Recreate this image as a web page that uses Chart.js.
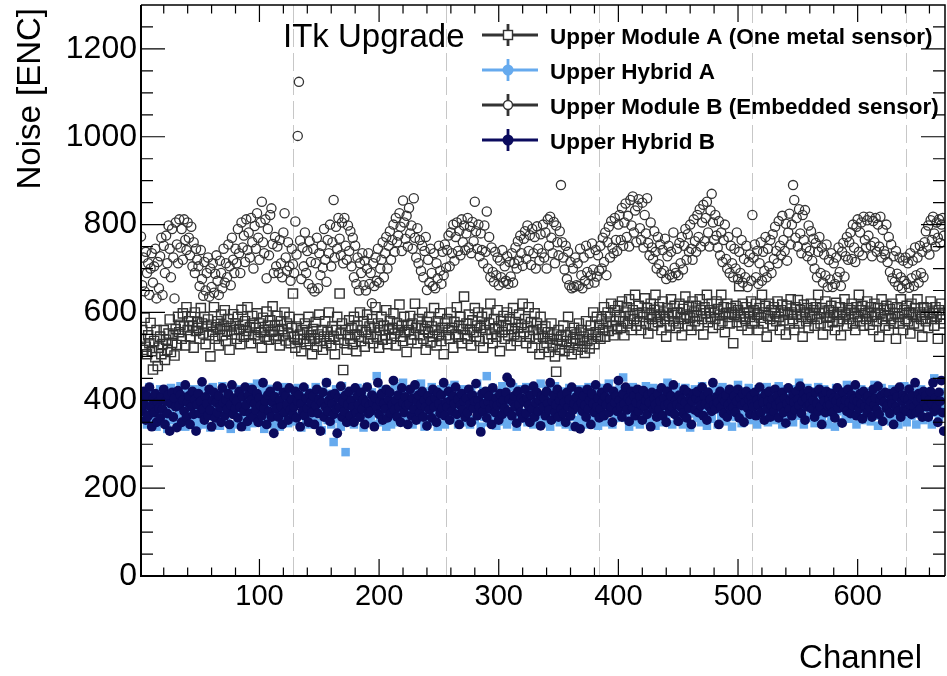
<!DOCTYPE html>
<html>
<head>
<meta charset="utf-8">
<title>ITk Upgrade noise</title>
<script src="https://cdn.jsdelivr.net/npm/chart.js@4.4.0/dist/chart.umd.min.js"></script>
<style>
  html, body { margin: 0; padding: 0; background: #fff; }
  canvas { display: block; }
</style>
</head>
<body>
<canvas id="noise" width="947" height="676"></canvas>
<script>
// values, one per channel (channel 1..672)
const moduleA = [
  540,560,515,588,522,505,548,530,576,512,470,535,498,560,478,520,
  545,505,528,560,492,538,515,552,584,510,530,548,502,562,526,590,
  555,572,540,598,568,525,612,560,580,545,590,570,520,600,558,578,
  565,540,610,575,552,590,528,568,584,548,500,572,556,612,540,566,
  580,525,562,595,548,570,605,535,558,585,515,568,550,596,560,575,
  540,590,562,528,606,572,545,580,558,612,550,566,530,592,575,548,
  565,598,540,575,555,520,588,560,545,602,570,538,582,556,614,548,
  570,540,592,558,525,580,562,548,600,536,575,552,590,530,565,643,
  545,520,568,538,585,550,512,560,540,575,528,555,590,535,548,505,
  562,540,578,522,550,595,535,560,515,545,580,530,556,600,540,525,
  568,545,505,560,590,538,643,552,575,469,530,560,515,548,582,540,
  565,528,590,550,512,570,545,600,535,560,580,522,555,595,540,568,
  550,585,530,565,612,545,575,520,560,590,538,570,548,605,528,562,
  580,540,565,598,552,525,575,560,618,545,570,535,590,555,510,572,
  560,592,538,575,550,620,565,530,585,548,570,600,540,562,515,578,
  555,590,532,568,545,610,560,525,580,550,598,535,565,505,575,548,
  585,560,540,600,565,520,578,550,612,545,570,590,530,562,636,548,
  575,540,595,560,525,582,555,610,545,570,600,535,565,590,520,572,
  560,598,540,575,620,550,530,585,562,545,605,568,512,580,555,592,
  540,570,600,548,585,525,562,610,550,578,535,565,595,545,572,620,
  555,585,530,568,612,545,578,520,560,598,540,575,550,505,590,562,
  545,520,568,530,555,510,540,575,525,550,500,465,538,560,515,545,
  528,570,512,548,535,590,520,555,505,540,565,530,550,515,575,538,
  560,522,545,508,580,535,552,518,570,540,600,528,555,590,545,572,
  540,585,560,612,545,575,600,558,590,620,570,548,605,580,562,615,
  590,565,625,580,548,600,612,575,630,592,560,605,585,640,570,598,
  615,580,560,600,590,632,575,610,552,595,620,585,570,606,640,590,
  578,612,595,560,625,600,585,545,610,592,570,630,598,580,615,565,
  600,575,620,590,548,608,585,636,595,570,612,588,560,625,600,580,
  615,592,570,630,605,585,550,612,598,640,578,605,590,620,565,600,
  585,625,608,572,595,640,580,612,555,598,620,590,575,610,600,530,
  595,615,578,605,660,590,570,620,598,585,612,560,600,590,625,575,
  605,580,620,595,560,610,588,640,575,600,615,545,592,620,585,605,
  570,612,598,580,625,590,560,605,618,582,600,550,615,595,575,630,
  600,585,560,612,595,628,575,605,590,545,618,600,580,610,565,595,
  620,590,605,570,612,585,640,598,575,610,550,600,625,588,570,605,
  590,615,578,600,560,622,595,580,612,548,600,585,630,595,570,610,
  585,605,620,575,598,560,612,590,640,580,605,615,570,598,585,625,
  600,572,612,590,560,620,595,580,610,545,598,630,585,605,570,615,
  592,560,608,585,620,575,598,540,612,590,575,630,598,560,605,585,
  615,580,600,552,620,595,575,610,590,630,570,600,585,545,612,595,
  580,610,565,600,625,585,598,570,612,590,540,605,585,620,595,575
];

const hybridA = [
  395,360,420,372,405,345,388,430,365,400,352,415,378,340,410,385,
  425,368,398,350,412,380,335,402,370,428,355,392,418,362,345,405,
  380,432,358,396,412,340,385,420,366,402,350,378,425,360,395,342,
  410,372,355,428,388,345,405,365,418,380,338,398,430,362,390,352,
  415,375,342,400,432,360,388,350,420,372,405,335,395,428,368,382,
  345,410,378,425,355,398,365,418,340,388,430,372,402,348,415,380,
  395,438,362,405,350,420,378,335,410,388,426,358,398,370,415,345,
  382,425,365,400,340,412,388,355,430,372,405,348,395,422,360,385,
  410,352,392,428,365,400,338,415,380,426,355,398,372,345,418,388,
  362,405,430,375,348,412,390,332,420,368,402,440,355,385,415,345,
  398,305,372,425,358,410,385,340,432,368,395,282,415,362,400,350,
  420,378,345,408,390,428,360,398,372,415,338,402,385,430,355,392,
  365,418,400,345,385,455,372,410,350,395,425,362,405,340,388,420,
  378,345,412,395,432,360,402,385,350,418,372,440,395,358,410,380,
  425,365,390,345,415,400,372,428,355,392,438,368,405,340,385,420,
  360,402,378,430,352,395,415,368,340,410,385,425,365,398,345,412,
  390,428,370,405,355,382,435,362,400,345,418,388,372,425,350,395,
  412,365,398,345,425,380,405,355,392,438,370,410,340,385,420,362,
  400,455,375,350,412,388,428,360,395,342,418,380,405,365,432,352,
  385,420,345,398,372,410,355,430,382,402,340,415,368,395,425,358,
  405,372,430,350,390,418,362,400,345,425,380,408,355,395,438,368,
  410,348,388,425,365,402,340,418,378,395,432,358,385,412,350,400,
  372,420,395,345,410,385,428,362,398,340,415,378,405,355,390,425,
  360,400,382,418,345,395,430,368,410,352,388,420,375,398,342,412,
  385,428,365,402,350,415,390,438,372,405,345,420,382,360,412,395,
  425,370,398,452,385,360,415,395,340,408,380,430,365,402,350,418,
  392,345,420,378,405,360,432,388,415,352,398,372,428,385,342,410,
  368,412,395,350,425,380,405,362,440,390,372,418,345,400,385,430,
  355,398,420,375,408,345,392,428,365,410,382,338,415,395,370,425,
  402,360,385,418,350,432,378,405,395,342,420,372,400,358,412,388,
  425,382,345,408,395,365,430,378,410,352,398,420,370,405,340,390,
  415,362,400,435,375,392,348,420,385,410,365,398,428,355,405,380,
  370,412,390,345,425,382,400,360,418,395,372,430,350,408,385,365,
  420,378,405,355,398,432,368,390,345,415,385,425,362,400,378,412,
  395,350,425,382,408,365,440,390,372,418,345,400,385,428,360,410,
  375,420,395,348,412,385,430,365,402,358,390,425,370,405,345,418,
  398,362,415,388,340,428,375,405,392,350,420,382,410,365,435,395,
  358,410,385,430,370,402,345,418,390,372,425,355,400,385,412,368,
  420,380,352,408,395,435,365,398,342,412,385,428,372,405,360,390,
  415,375,400,352,425,388,362,410,398,345,420,380,405,368,432,392,
  350,405,385,428,365,400,375,418,345,392,412,370,425,388,355,408,
  382,420,360,398,412,345,388,450,372,405,395,362,418,380,400,372
];

const moduleB = [
  773,662,725,648,738,690,712,640,700,735,668,705,745,632,715,655,
  728,770,640,752,690,775,712,798,745,680,790,725,632,805,755,712,
  812,748,790,720,812,765,742,805,770,730,795,705,760,690,745,720,
  705,660,742,676,638,715,650,690,725,636,700,658,712,645,688,730,
  672,640,718,690,655,745,668,712,680,755,705,662,770,720,690,745,
  712,790,735,690,805,748,775,715,812,742,782,725,815,760,700,797,
  745,826,770,720,805,852,760,735,812,678,790,730,822,837,756,690,
  772,705,750,690,765,712,680,782,826,725,695,760,705,672,745,710,
  690,807,732,1002,1125,764,676,748,705,782,690,740,665,762,715,655,
  745,648,712,770,655,735,685,752,702,790,720,670,765,735,800,705,
  760,856,725,795,745,815,768,730,805,712,815,752,720,798,740,785,
  705,770,680,752,665,725,650,712,690,735,662,718,650,700,735,665,
  690,621,712,660,725,672,745,668,700,720,760,680,735,772,700,752,
  785,720,765,800,738,815,760,775,826,795,740,855,805,768,820,750,
  838,780,798,745,860,770,725,792,712,765,695,752,680,740,772,651,
  720,668,745,690,660,735,655,712,678,752,695,665,738,685,755,702,
  742,775,705,782,735,800,718,772,805,740,786,730,812,760,798,742,
  780,815,748,795,735,806,762,852,785,745,800,728,780,742,712,798,
  738,830,700,772,680,748,692,670,738,685,725,662,718,680,742,668,
  705,672,728,665,715,682,735,668,712,748,700,762,718,775,735,706,
  768,785,722,798,740,776,708,790,735,772,700,796,745,718,778,735,
  800,725,782,700,812,752,818,770,735,806,712,798,760,730,785,890,
  760,725,698,752,676,738,662,715,655,700,658,725,662,712,660,745,
  685,655,725,672,752,692,665,735,684,757,698,668,742,682,730,695,
  752,700,770,715,782,685,760,795,725,808,748,735,815,765,740,800,
  822,765,838,752,805,848,772,820,750,856,798,864,782,832,760,842,
  858,792,765,850,748,822,780,860,758,730,805,748,722,785,738,700,
  772,710,755,690,742,695,768,676,728,752,686,738,680,782,702,690,
  745,685,758,712,772,698,752,790,720,778,738,800,745,720,812,762,
  738,822,772,835,750,805,845,762,815,852,782,750,832,870,805,765,
  822,775,748,808,730,782,715,765,800,722,700,772,690,752,712,680,
  745,700,782,676,738,690,765,668,722,680,752,658,715,732,672,822,
  725,755,680,740,665,712,760,672,738,695,772,680,745,705,765,690,
  778,722,795,740,712,808,752,730,820,765,740,802,718,782,825,755,
  800,890,856,770,815,750,835,780,735,822,765,833,748,728,798,740,
  785,718,768,700,758,680,738,772,690,748,668,732,684,755,658,720,
  675,735,658,712,665,725,680,748,692,660,738,758,682,728,772,720,
  760,782,722,800,748,715,795,812,738,782,805,730,818,765,748,810,
  775,818,752,728,808,760,815,738,800,750,818,725,788,740,732,800,
  715,772,692,755,678,728,670,740,688,660,725,680,655,718,672,725,
  665,712,656,735,678,718,660,748,685,725,668,752,690,738,680,760,
  785,748,798,732,810,765,818,780,750,805,770,812,758,800,815,775
];

const hybridB = [
  400,375,420,390,355,410,365,430,385,340,402,372,415,350,395,382,
  360,408,380,425,345,398,370,412,330,392,418,362,405,385,338,422,
  388,412,350,400,375,435,362,395,410,345,385,420,368,402,330,390,
  415,370,398,442,380,355,408,392,365,425,378,340,400,418,360,395,
  372,410,385,350,428,395,365,402,380,415,345,390,435,368,405,382,
  398,360,420,385,340,408,375,430,390,352,412,370,400,425,362,392,
  378,415,350,405,388,365,440,382,398,345,412,375,420,362,395,325,
  408,380,432,362,400,385,345,418,372,410,390,355,428,378,402,368,
  385,420,360,398,412,340,392,375,430,365,405,382,350,415,395,372,
  410,345,388,425,370,402,330,395,418,362,385,440,375,400,352,412,
  392,368,415,380,325,405,385,432,362,398,375,412,350,390,420,365,
  400,385,350,428,372,410,390,362,418,380,402,345,395,430,370,388,
  375,412,395,340,405,385,440,368,398,415,355,392,380,425,360,402,
  418,370,390,445,378,400,362,412,385,350,428,395,372,408,388,345,
  392,425,365,405,380,435,355,398,412,372,390,420,362,400,385,342,
  410,378,398,360,425,385,405,350,418,392,370,412,382,440,365,395,
  385,420,355,400,375,410,392,430,368,402,345,388,415,378,398,362,
  405,372,425,390,350,412,382,398,438,365,400,385,328,415,375,392,
  420,360,398,410,380,345,428,392,372,405,388,355,415,395,368,400,
  382,418,452,375,402,440,365,395,410,385,348,420,390,372,405,360,
  398,425,370,405,388,350,412,380,432,362,395,418,375,400,342,410,
  385,405,365,420,392,378,440,355,398,412,372,390,425,362,400,380,
  412,370,395,350,418,385,402,365,430,378,392,340,408,385,420,335,
  395,375,410,388,362,425,380,400,345,415,392,372,435,385,405,360,
  380,418,398,365,408,390,428,372,402,385,350,420,395,410,375,445,
  400,385,362,415,392,430,378,405,352,398,420,382,410,365,395,425,
  375,408,390,355,422,385,400,368,412,395,340,418,380,405,390,362,
  415,380,398,428,365,405,388,350,420,392,375,410,385,435,368,400,
  390,352,412,385,402,370,425,395,360,418,382,405,345,398,415,378,
  405,420,372,398,388,430,365,410,392,355,418,385,402,375,440,390,
  380,408,395,345,420,385,405,370,398,412,362,390,425,378,400,385,
  410,372,398,425,360,405,388,415,350,395,420,382,402,368,410,392,
  385,418,365,400,390,430,372,405,395,355,415,380,398,420,362,388,
  402,375,425,390,410,360,398,385,418,372,405,348,392,428,380,400,
  365,412,395,378,420,402,388,432,370,398,415,355,405,385,422,390,
  408,380,400,362,418,392,375,425,385,345,410,398,372,420,388,402,
  390,415,372,405,360,398,428,382,410,395,348,418,385,400,375,425,
  395,370,412,388,402,435,365,398,380,415,392,358,420,385,405,372,
  410,385,398,362,425,390,405,378,432,368,400,412,352,395,418,382,
  388,415,370,400,392,345,420,385,408,375,430,362,398,412,380,405,
  375,402,425,390,368,410,385,440,372,398,415,380,405,362,420,395,
  410,385,362,400,420,392,440,375,405,385,350,418,398,445,372,330
];

const legendLabels = [
  "Upper Module A (One metal sensor)",
  "Upper Hybrid A",
  "Upper Module B (Embedded sensor)",
  "Upper Hybrid B"
];
const xTickLabels = [100, 200, 300, 400, 500, 600];
const yTickLabels = [0, 200, 400, 600, 800, 1000, 1200];
const chipEdges = [128, 256, 384, 512, 640];

const channels = moduleA.map((v, i) => i + 1);

function toPoints(values) {
  return values.map((v, i) => ({ x: channels[i], y: v }));
}

const FONT = "'Liberation Sans', Helvetica, Arial, sans-serif";
const DARK = "#333333";
const LIGHTBLUE = "#66aaee";
const NAVY = "#0b0b5e";

// ROOT look: frame, ticks on all four sides, chip boundaries, legend, labels
const rootStyle = {
  id: "rootStyle",
  beforeDatasetsDraw(chart) {
    const { ctx, chartArea: a, scales } = chart;
    ctx.save();
    ctx.strokeStyle = "rgba(175,175,175,0.7)";
    ctx.lineWidth = 1;
    ctx.setLineDash([18, 6]);
    chipEdges.forEach(c => {
      const px = Math.round(scales.x.getPixelForValue(c)) + 0.5;
      ctx.beginPath();
      ctx.moveTo(px, a.top);
      ctx.lineTo(px, a.bottom);
      ctx.stroke();
    });
    ctx.restore();
  },
  afterDraw(chart) {
    const { ctx, chartArea: a, scales } = chart;
    const xs = scales.x, ys = scales.y;
    ctx.save();

    // ticks
    ctx.strokeStyle = "#000";
    ctx.lineWidth = 1.2;
    ctx.beginPath();
    for (let v = 20; v < xs.max; v += 20) {
      const px = xs.getPixelForValue(v);
      const len = v % 100 === 0 ? 17 : 8.5;
      ctx.moveTo(px, a.bottom); ctx.lineTo(px, a.bottom - len);
      ctx.moveTo(px, a.top); ctx.lineTo(px, a.top + len);
    }
    for (let v = 50; v < ys.max; v += 50) {
      const py = ys.getPixelForValue(v);
      const len = v % 200 === 0 ? 24 : 12;
      ctx.moveTo(a.left, py); ctx.lineTo(a.left + len, py);
      ctx.moveTo(a.right, py); ctx.lineTo(a.right - len, py);
    }
    ctx.stroke();

    // frame
    ctx.lineWidth = 2;
    ctx.beginPath();
    ctx.moveTo(a.left, a.top); ctx.lineTo(a.left, a.bottom); ctx.lineTo(a.right, a.bottom);
    ctx.stroke();
    ctx.lineWidth = 1.5;
    ctx.beginPath();
    ctx.moveTo(a.left, a.top); ctx.lineTo(a.right, a.top); ctx.lineTo(a.right, a.bottom);
    ctx.stroke();

    // axis titles
    ctx.fillStyle = "#000";
    ctx.font = "33px " + FONT;
    ctx.textAlign = "right";
    ctx.textBaseline = "alphabetic";
    ctx.fillText("Channel", 922, 668);
    ctx.save();
    ctx.translate(40, 8);
    ctx.rotate(-Math.PI / 2);
    ctx.fillText("Noise [ENC]", 0, 0);
    ctx.restore();

    // label
    ctx.textAlign = "left";
    ctx.font = "33px " + FONT;
    ctx.fillText("ITk Upgrade", 283, 47);

    // legend
    const rows = [35, 70, 105, 140];
    const colors = [DARK, LIGHTBLUE, DARK, NAVY];
    rows.forEach((y, i) => {
      ctx.strokeStyle = colors[i];
      ctx.fillStyle = colors[i];
      ctx.lineWidth = 2.8;
      ctx.beginPath();
      ctx.moveTo(482, y); ctx.lineTo(538, y);
      ctx.moveTo(508, y - 11); ctx.lineTo(508, y + 11);
      ctx.stroke();
      ctx.lineWidth = 1.4;
      if (i === 0) {
        ctx.fillStyle = "#fff";
        ctx.fillRect(503.5, y - 4.5, 9, 9);
        ctx.strokeRect(503.5, y - 4.5, 9, 9);
      } else if (i === 2) {
        ctx.fillStyle = "#fff";
        ctx.beginPath(); ctx.arc(508, y, 4.5, 0, Math.PI * 2); ctx.fill(); ctx.stroke();
      } else {
        ctx.beginPath(); ctx.arc(508, y, 5.5, 0, Math.PI * 2); ctx.fill();
      }
      ctx.fillStyle = "#000";
      ctx.font = "bold 22.5px " + FONT;
      ctx.fillText(legendLabels[i], 550, y + 9);
    });
    ctx.restore();
  }
};

const ctx = document.getElementById("noise").getContext("2d");
new Chart(ctx, {
  type: "scatter",
  data: {
    datasets: [
      {
        label: legendLabels[0],
        data: toPoints(moduleA),
        pointStyle: "rect",
        pointRadius: 6.5,
        borderColor: DARK,
        backgroundColor: "rgba(0,0,0,0)",
        borderWidth: 1.4,
        order: 4
      },
      {
        label: legendLabels[1],
        data: toPoints(hybridA),
        pointStyle: "rect",
        pointRadius: 6,
        borderWidth: 0,
        backgroundColor: LIGHTBLUE,
        order: 3
      },
      {
        label: legendLabels[2],
        data: toPoints(moduleB),
        pointStyle: "circle",
        pointRadius: 4.6,
        borderColor: DARK,
        backgroundColor: "rgba(0,0,0,0)",
        borderWidth: 1.3,
        order: 2
      },
      {
        label: legendLabels[3],
        data: toPoints(hybridB),
        pointStyle: "circle",
        pointRadius: 4.9,
        borderWidth: 0,
        backgroundColor: NAVY,
        order: 1
      }
    ]
  },
  options: {
    responsive: false,
    animation: false,
    events: [],
    layout: { autoPadding: false, padding: { top: 5, right: 2, left: 0, bottom: 0 } },
    plugins: {
      legend: { display: false },
      tooltip: { enabled: false }
    },
    scales: {
      x: {
        type: "linear",
        min: 1,
        max: 673,
        grid: { display: false, drawTicks: false },
        border: { display: false },
        afterBuildTicks: s => { s.ticks = xTickLabels.map(v => ({ value: v })); },
        afterFit: s => { s.height = 100; s.paddingLeft = 0; s.paddingRight = 0; },
        ticks: {
          autoSkip: false,
          maxRotation: 0,
          padding: 4,
          color: "#000",
          font: { family: FONT, size: 29 },
          callback: v => String(v)
        }
      },
      y: {
        type: "linear",
        min: 0,
        max: 1300,
        grid: { display: false, drawTicks: false },
        border: { display: false },
        afterBuildTicks: s => { s.ticks = yTickLabels.map(v => ({ value: v })); },
        afterFit: s => { s.width = 141; s.paddingTop = 0; s.paddingBottom = 0; },
        ticks: {
          padding: 4,
          color: "#000",
          font: { family: FONT, size: 32 },
          callback: v => String(v)
        }
      }
    }
  },
  plugins: [rootStyle]
});
</script>
</body>
</html>
